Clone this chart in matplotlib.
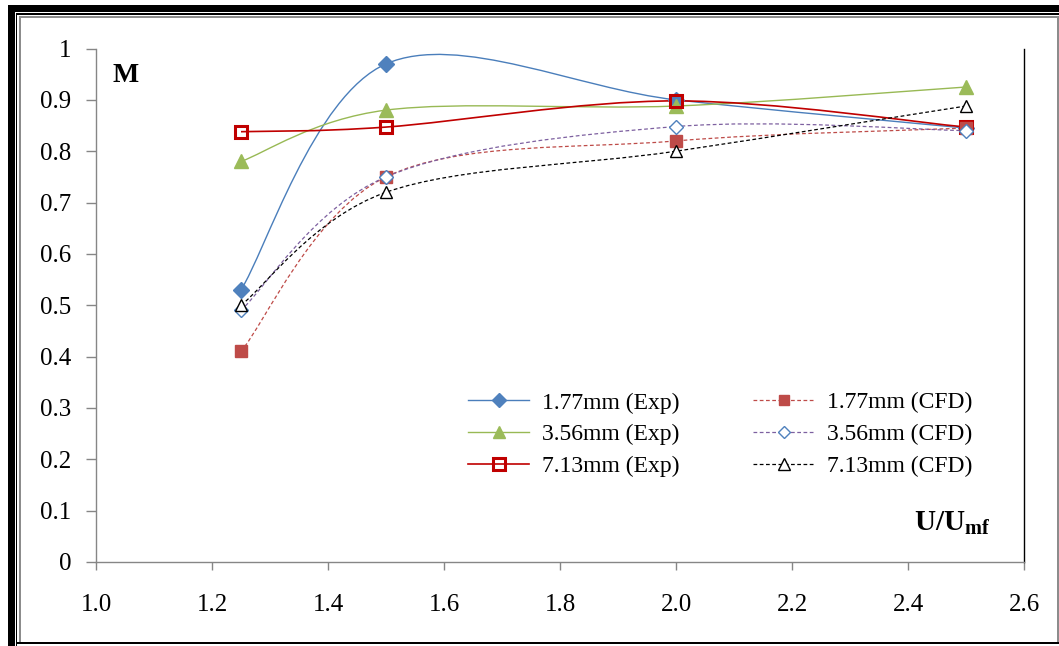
import matplotlib
matplotlib.use("Agg")
import matplotlib.pyplot as plt
from matplotlib.path import Path
from matplotlib.patches import PathPatch, Rectangle
from matplotlib.lines import Line2D

# ---- data ----
u_ratio = [1.25, 1.5, 2.0, 2.5]

exp_177 = [0.53, 0.97, 0.90, 0.845]
exp_356 = [0.78, 0.88, 0.888, 0.925]
exp_713 = [0.838, 0.847, 0.898, 0.847]

cfd_177 = [0.41, 0.75, 0.82, 0.845]
cfd_356 = [0.49, 0.75, 0.848, 0.84]
cfd_713 = [0.50, 0.72, 0.80, 0.888]

labels_exp = ["1.77mm (Exp)", "3.56mm (Exp)", "7.13mm (Exp)"]
labels_cfd = ["1.77mm (CFD)", "3.56mm (CFD)", "7.13mm (CFD)"]

x_ticks = [1.0, 1.2, 1.4, 1.6, 1.8, 2.0, 2.2, 2.4, 2.6]
x_tick_labels = ["1.0", "1.2", "1.4", "1.6", "1.8", "2.0", "2.2", "2.4", "2.6"]
y_ticks = [0, 0.1, 0.2, 0.3, 0.4, 0.5, 0.6, 0.7, 0.8, 0.9, 1.0]
y_tick_labels = ["0", "0.1", "0.2", "0.3", "0.4", "0.5", "0.6", "0.7", "0.8", "0.9", "1"]

SERIF = "Liberation Serif"
plt.rcParams["font.family"] = [SERIF, "DejaVu Serif"]
plt.rcParams["mathtext.fontset"] = "custom"
plt.rcParams["mathtext.rm"] = SERIF
plt.rcParams["mathtext.bf"] = SERIF + ":bold"


def smooth_path(xs, ys):
    """Cubic Bezier path through the points (Catmull-Rom style smoothing)."""
    pts = list(zip(xs, ys))
    n = len(pts)
    verts = [pts[0]]
    codes = [Path.MOVETO]
    for i in range(n - 1):
        p0 = pts[i - 1] if i > 0 else pts[i]
        p1 = pts[i]
        p2 = pts[i + 1]
        p3 = pts[i + 2] if i + 2 < n else pts[i + 1]
        c1 = (p1[0] + (p2[0] - p0[0]) / 6.0, p1[1] + (p2[1] - p0[1]) / 6.0)
        c2 = (p2[0] - (p3[0] - p1[0]) / 6.0, p2[1] - (p3[1] - p1[1]) / 6.0)
        verts += [c1, c2, p2]
        codes += [Path.CURVE4] * 3
    return Path(verts, codes)


fig = plt.figure(figsize=(10.59, 6.46), dpi=100)
ax = fig.add_axes([96 / 1059, 1 - 562 / 646, (1024 - 96) / 1059, (562 - 48.5) / 646])

series = [
    # values, line colour, linestyle, lw, marker, ms, face, edge, mew, label
    (exp_177, "#4A7EBB", "-", 1.0, "D", 8, "#4F81BD", "#4F81BD", 1.0, labels_exp[0]),
    (exp_356, "#98B954", "-", 1.0, "^", 10, "#9BBB59", "#9BBB59", 1.0, labels_exp[1]),
    (exp_713, "#C00000", "-", 1.2, "s", 9, "none", "#C00000", 2.2, labels_exp[2]),
    (cfd_177, "#BE4B48", (0, (3, 2)), 0.9, "s", 8, "#BE4B48", "#BE4B48", 1.0, labels_cfd[0]),
    (cfd_356, "#7D60A0", (0, (3, 2)), 0.9, "D", 7, "white", "#4F81BD", 1.0, labels_cfd[1]),
    (cfd_713, "#000000", (0, (3, 2)), 0.9, "^", 9, "white", "#000000", 1.0, labels_cfd[2]),
]

handles = []
for vals, lc, ls, lw, mk, ms, fc, ec, mew, lab in series:
    patch = PathPatch(smooth_path(u_ratio, vals), facecolor="none", edgecolor=lc,
                      linestyle=ls, linewidth=lw, transform=ax.transData, zorder=2)
    ax.add_patch(patch)
    handles.append(Line2D([], [], color=lc, linestyle=ls, linewidth=lw, marker=mk,
                          markersize=ms * 0.9, markerfacecolor=fc, markeredgecolor=ec,
                          markeredgewidth=mew, label=lab))

for vals, lc, ls, lw, mk, ms, fc, ec, mew, lab in series:
    ax.plot(u_ratio, vals, linestyle="none", marker=mk, markersize=ms,
            markerfacecolor=fc, markeredgecolor=ec, markeredgewidth=mew, zorder=3)

ax.set_xlim(1.0, 2.6)
ax.set_ylim(0, 1.0)
ax.set_xticks(x_ticks)
ax.set_xticklabels(x_tick_labels)
ax.set_yticks(y_ticks)
ax.set_yticklabels(y_tick_labels)

for side in ("left", "bottom"):
    ax.spines[side].set_color("#868686")
    ax.spines[side].set_linewidth(1.0)
ax.spines["top"].set_visible(False)
ax.spines["right"].set_color("black")
ax.spines["right"].set_linewidth(1.0)

ax.tick_params(axis="y", direction="out", length=7, width=1, color="#868686",
               pad=11, labelsize=18, labelcolor="black")
ax.tick_params(axis="x", direction="out", length=6, width=1, color="#868686",
               pad=17, labelsize=18, labelcolor="black")

ax.text(0.018, 0.935, "M", transform=ax.transAxes, fontsize=20, fontweight="bold",
        ha="left", va="baseline")
ax.text(0.882, 0.06, r"$\mathbf{U/U_{mf}}$", transform=ax.transAxes, fontsize=21,
        ha="left", va="baseline")

leg = ax.legend(handles=handles, ncol=2, loc="upper left",
                bbox_to_anchor=((468 - 96) / 928, 1 - (392 - 48.5) / 513.5),
                frameon=False, fontsize=17, handlelength=2.6, handletextpad=0.55,
                columnspacing=3.1, labelspacing=0.43, borderaxespad=0, borderpad=0)

# decorative frame around the whole figure
def frame_rect(x0, y0, x1, y1, color):
    fig.patches.append(Rectangle((x0 / 1059, 1 - y1 / 646), (x1 - x0) / 1059, (y1 - y0) / 646,
                                 transform=fig.transFigure, facecolor=color,
                                 edgecolor="none", zorder=0))

frame_rect(8, 5, 1059, 12, "black")      # thick top band
frame_rect(8, 5, 14.5, 646, "black")     # thick left band
frame_rect(16, 13, 1059, 14.5, "black")  # thin top line
frame_rect(15.5, 13, 17, 646, "black")   # thin left line
frame_rect(19, 16, 1059, 17.5, "#8c8c8c")   # inner grey top
frame_rect(19, 16, 21, 642, "#8c8c8c")      # inner grey left
frame_rect(1057, 16, 1058.5, 642, "#8c8c8c")  # inner grey right
frame_rect(16, 641.5, 1059, 644, "black")   # bottom line

fig.savefig("out.png", dpi=100)
